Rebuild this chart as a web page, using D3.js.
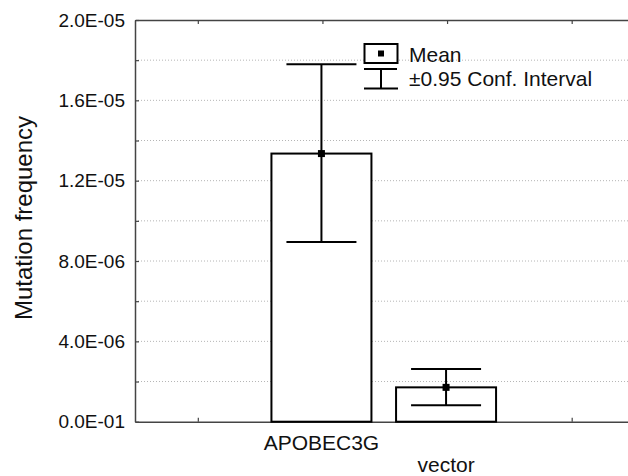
<!DOCTYPE html>
<html>
<head>
<meta charset="utf-8">
<script src="https://cdn.jsdelivr.net/npm/d3@7"></script>
<style>
  html, body { margin: 0; padding: 0; background: #fff; }
  svg { display: block; font-family: "Liberation Sans", Arial, sans-serif; }
</style>
</head>
<body>
<svg id="chart" width="628" height="476"></svg>
<script>
// ---- data ----
const categories = ["APOBEC3G", "vector"];
const categoryIndex = [1, 2];
const means = [1.335e-5, 1.71e-6];
const ciLower = [8.95e-6, 8.2e-7];
const ciUpper = [1.78e-5, 2.62e-6];
const yTickValues = [0, 4e-6, 8e-6, 1.2e-5, 1.6e-5, 2e-5];
const yTickLabels = ["0.0E-01", "4.0E-06", "8.0E-06", "1.2E-05", "1.6E-05", "2.0E-05"];
const yGridValues = [2e-6, 4e-6, 6e-6, 8e-6, 1e-5, 1.2e-5, 1.4e-5, 1.6e-5, 1.8e-5];
const yMinorTicks = [0, 2e-6, 4e-6, 6e-6, 8e-6, 1e-5, 1.2e-5, 1.4e-5, 1.6e-5, 1.8e-5, 2e-5];
const xTickPositions = [0, 1, 2, 3];
const yTitle = "Mutation frequency";
const legendLabels = ["Mean", "±0.95 Conf. Interval"];

(function () {
// ---- layout ----
const svg = d3.select("#chart");
const plotLeft = 135, plotTop = 20, plotBottom = 421.7;
const x = d3.scaleLinear().domain([-0.5, 3.5]).range([135.5, 634]);
const y = d3.scaleLinear().domain([0, 2e-5]).range([plotBottom, plotTop]);
const barW = 100, capW = 70;

// gridlines
svg.append("g").selectAll("line").data(yGridValues).join("line")
  .attr("x1", plotLeft).attr("x2", 628)
  .attr("y1", d => y(d)).attr("y2", d => y(d))
  .attr("stroke", "#b5b5b5").attr("stroke-width", 1)
  .attr("stroke-dasharray", "1,2");

// left axis
const labelMap = new Map(yTickValues.map((v, i) => [v, yTickLabels[i]]));
const yAxis = d3.axisLeft(y).tickValues(yMinorTicks)
  .tickSizeInner(-4).tickSizeOuter(0).tickPadding(10)
  .tickFormat(d => labelMap.has(d) ? labelMap.get(d) : "");
const gy = svg.append("g").attr("transform", `translate(${plotLeft},0)`).call(yAxis);
gy.select(".domain").attr("stroke", "#444").attr("stroke-width", 1.5);
gy.selectAll(".tick line").attr("stroke", "#444").attr("stroke-width", 1.2);
gy.selectAll(".tick text").attr("font-size", 19).attr("fill", "#111")
  .attr("font-family", "Liberation Sans, Arial, sans-serif");

// bottom axis
const xAxis = d3.axisBottom(x).tickValues(xTickPositions)
  .tickSizeInner(-4).tickSizeOuter(0).tickFormat("");
const gx = svg.append("g").attr("transform", `translate(0,${plotBottom})`).call(xAxis);
gx.select(".domain").attr("stroke", "#444").attr("stroke-width", 1.5);
gx.selectAll(".tick line").attr("stroke", "#444").attr("stroke-width", 1.2);

// top border
const xTop = d3.axisTop(x).tickValues(xTickPositions)
  .tickSizeInner(-4).tickSizeOuter(0).tickFormat("");
const gt = svg.append("g").attr("transform", `translate(0,${plotTop})`).call(xTop);
gt.select(".domain").attr("stroke", "#444").attr("stroke-width", 1.5);
gt.selectAll(".tick line").attr("stroke", "#444").attr("stroke-width", 1.2);

// category labels (staggered)
svg.append("g").selectAll("text").data(categories).join("text")
  .attr("x", (d, i) => x(categoryIndex[i]) - 1)
  .attr("y", (d, i) => i % 2 === 0 ? 450 : 472)
  .attr("text-anchor", "middle").attr("font-size", 21).attr("fill", "#111")
  .text(d => d);

// y title
svg.append("text")
  .attr("transform", "translate(32,218) rotate(-90)")
  .attr("text-anchor", "middle").attr("font-size", 24).attr("fill", "#111")
  .text(yTitle);

// bars
svg.append("g").selectAll("rect").data(means).join("rect")
  .attr("x", (d, i) => x(categoryIndex[i]) - barW / 2 - 1)
  .attr("width", barW)
  .attr("y", d => y(d))
  .attr("height", d => plotBottom - y(d))
  .attr("fill", "#fff").attr("stroke", "#000").attr("stroke-width", 2);

// error bars
const ge = svg.append("g").attr("stroke", "#000").attr("stroke-width", 2);
means.forEach((m, i) => {
  const cx = x(categoryIndex[i]) - 1;
  ge.append("line").attr("x1", cx).attr("x2", cx).attr("y1", y(ciUpper[i])).attr("y2", y(ciLower[i]));
  ge.append("line").attr("x1", cx - capW / 2).attr("x2", cx + capW / 2).attr("y1", y(ciUpper[i])).attr("y2", y(ciUpper[i]));
  ge.append("line").attr("x1", cx - capW / 2).attr("x2", cx + capW / 2).attr("y1", y(ciLower[i])).attr("y2", y(ciLower[i]));
});
svg.append("g").selectAll("rect").data(means).join("rect")
  .attr("x", (d, i) => x(categoryIndex[i]) - 1 - 3.5)
  .attr("y", d => y(d) - 3.5)
  .attr("width", 7).attr("height", 7).attr("fill", "#000");

// legend
const lg = svg.append("g");
lg.append("rect").attr("x", 364.5).attr("y", 44).attr("width", 33).attr("height", 19)
  .attr("fill", "#fff").attr("stroke", "#000").attr("stroke-width", 2);
lg.append("rect").attr("x", 378).attr("y", 50.5).attr("width", 6).attr("height", 6).attr("fill", "#000");
lg.append("line").attr("x1", 364).attr("x2", 397).attr("y1", 69).attr("y2", 69).attr("stroke", "#000").attr("stroke-width", 2);
lg.append("line").attr("x1", 381).attr("x2", 381).attr("y1", 69).attr("y2", 88.5).attr("stroke", "#000").attr("stroke-width", 2);
lg.append("line").attr("x1", 364).attr("x2", 398).attr("y1", 88.5).attr("y2", 88.5).attr("stroke", "#000").attr("stroke-width", 2);
lg.selectAll("text").data(legendLabels).join("text")
  .attr("x", 409).attr("y", (d, i) => i === 0 ? 61.5 : 86)
  .attr("font-size", 21).attr("fill", "#111")
  .text(d => d);
})();
</script>
</body>
</html>
